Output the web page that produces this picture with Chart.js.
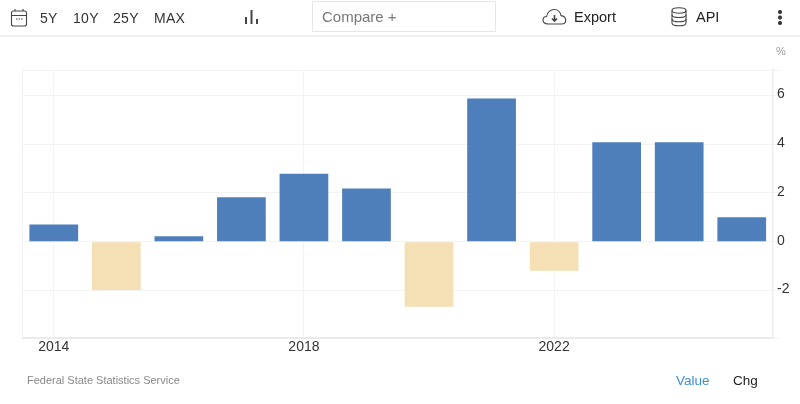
<!DOCTYPE html>
<html>
<head>
<meta charset="utf-8">
<script src="https://cdn.jsdelivr.net/npm/chart.js@4"></script>
<style>
html, body { margin: 0; padding: 0; background: #fff; }
body { width: 800px; height: 404px; overflow: hidden; position: relative; font-family: "Liberation Sans", Arial, sans-serif; }
#myChart { position: absolute; left: 0; top: 0; }
.t { position: absolute; white-space: nowrap; line-height: 1; color: #333; }
svg { position: absolute; fill: none; stroke: #444; }
#rule { position: absolute; left: 0; top: 35px; width: 800px; height: 2px; background: #f0f0f0; }
#compare { position: absolute; left: 312px; top: 1px; width: 182px; height: 29px; border: 1px solid #e6e6e6; }
</style>
</head>
<body>
<canvas id="myChart" width="800" height="404"></canvas>

<div id="rule"></div>
<svg style="left:10px;top:8px" width="19" height="20" stroke-width="1.1">
  <rect x="1.5" y="3" width="15" height="15" rx="2"/>
  <path d="M1.5 7.5H16.5M5 1V3M13 1V3"/>
  <path d="M6 11H7.5M8.5 11H10M11 11H12.5" stroke-width="1.2"/>
</svg>
<div class="t" style="left:40px;top:11px;font-size:14px;letter-spacing:.3px">5Y</div>
<div class="t" style="left:73px;top:11px;font-size:14px;letter-spacing:.3px">10Y</div>
<div class="t" style="left:113px;top:11px;font-size:14px;letter-spacing:.3px">25Y</div>
<div class="t" style="left:154px;top:11px;font-size:14px;letter-spacing:.3px">MAX</div>
<svg style="left:244px;top:9px" width="16" height="16" stroke-width="2">
  <path d="M2 8V15M7.5 1V15M13 10V15"/>
</svg>
<div id="compare"></div>
<div class="t" style="left:322px;top:9px;font-size:15px;color:#777">Compare +</div>
<svg style="left:542px;top:8px" width="25" height="18" stroke-width="1.1">
  <path d="M6 16C2.5 16 1 14 1 12C1 10 2.5 8.6 4.6 8.5C5.2 4.4 8.5 1.5 12 1.5C16 1.5 18.6 4.4 19 7.6C22 8 23.7 10 23.7 12.2C23.7 14.5 22 16 19.5 16Z"/>
  <path d="M12.5 7V12.5M10 10.5L12.5 13L15 10.5" stroke-width="1.6"/>
</svg>
<div class="t" style="left:574px;top:10px;font-size:14.5px;color:#222">Export</div>
<svg style="left:670px;top:7px" width="18" height="20" stroke-width="1.1">
  <ellipse cx="9" cy="3.5" rx="7" ry="2.7"/>
  <path d="M2 3.5V16C2 17.6 5 18.8 9 18.8C13 18.8 16 17.6 16 16V3.5"/>
  <path d="M2 7.7C2 9.3 5 10.5 9 10.5C13 10.5 16 9.3 16 7.7M2 12C2 13.6 5 14.8 9 14.8C13 14.8 16 13.6 16 12"/>
</svg>
<div class="t" style="left:696px;top:10px;font-size:14.5px;color:#222">API</div>
<svg style="left:776px;top:10px" width="8" height="16" stroke="none">
  <circle cx="4" cy="2" r="1.7" fill="#333"/><circle cx="4" cy="7.5" r="1.7" fill="#333"/><circle cx="4" cy="13" r="1.7" fill="#333"/>
</svg>
<div class="t" style="left:776px;top:46px;font-size:11px;color:#999">%</div>
<div class="t" style="left:27px;top:375px;font-size:11px;color:#888">Federal State Statistics Service</div>
<div class="t" style="left:676px;top:374px;font-size:13.5px;color:#3d8fd1">Value</div>
<div class="t" style="left:733px;top:374px;font-size:13.5px;color:#222">Chg</div>

<script>
const years = ["2014", "2015", "2016", "2017", "2018", "2019", "2020", "2021", "2022", "2023", "2024", "2025"];
const values = [0.71, -1.98, 0.22, 1.82, 2.79, 2.18, -2.67, 5.88, -1.19, 4.08, 4.08, 1.0];
const yearLabels = ["2014", "2018", "2022"];
const valueTicks = [-2, 0, 2, 4, 6];
const yMin = -3.955;
const yMax = 7.05;

const frame = {
    id: "frame",
    beforeDatasetsDraw(chart) {
        const a = chart.chartArea;
        const ctx = chart.ctx;
        ctx.save();
        ctx.strokeStyle = "#f1f1f1";
        ctx.lineWidth = 1;
        ctx.beginPath();
        ctx.moveTo(a.left, a.top);
        ctx.lineTo(a.left, a.bottom);
        ctx.stroke();
        ctx.restore();
    }
};

new Chart(document.getElementById("myChart"), {
    type: "bar",
    data: {
        labels: years,
        datasets: [{
            data: values,
            backgroundColor: c => c.raw < 0 ? "#f5dfb4" : "#4f7fbb",
            categoryPercentage: 1,
            barPercentage: 0.779
        }]
    },
    plugins: [frame],
    options: {
        responsive: false,
        animation: false,
        layout: { padding: { left: 22.5, top: 70, right: 0, bottom: 0 } },
        plugins: { legend: { display: false }, tooltip: { enabled: false } },
        scales: {
            x: {
                afterFit: s => { s.height = 66; },
                grid: {
                    offset: false,
                    drawTicks: false,
                    color: c => yearLabels.includes(years[c.index]) ? "#f3f3f3" : "transparent"
                },
                border: { color: "#eaeaea", width: 2 },
                ticks: {
                    autoSkip: false,
                    maxRotation: 0,
                    padding: 1,
                    color: "#333",
                    font: { family: "'Liberation Sans', Arial, sans-serif", size: 14 },
                    callback: function (v) {
                        const label = this.getLabelForValue(v);
                        return yearLabels.includes(label) ? label : "";
                    }
                }
            },
            y: {
                position: "right",
                min: yMin,
                max: yMax,
                afterFit: s => { s.width = 27; },
                afterBuildTicks: s => {
                    s.ticks = [yMin, ...valueTicks, yMax].map(v => ({ value: v }));
                },
                grid: { color: "#f3f3f3", tickLength: 7, tickColor: "#f3f3f3" },
                border: { color: "#eeeeee", width: 1.5 },
                ticks: {
                    padding: -3,
                    labelOffset: -1,
                    color: "#333",
                    font: { family: "'Liberation Sans', Arial, sans-serif", size: 14 },
                    callback: v => valueTicks.includes(v) ? String(v) : ""
                }
            }
        }
    }
});
</script>
</body>
</html>
